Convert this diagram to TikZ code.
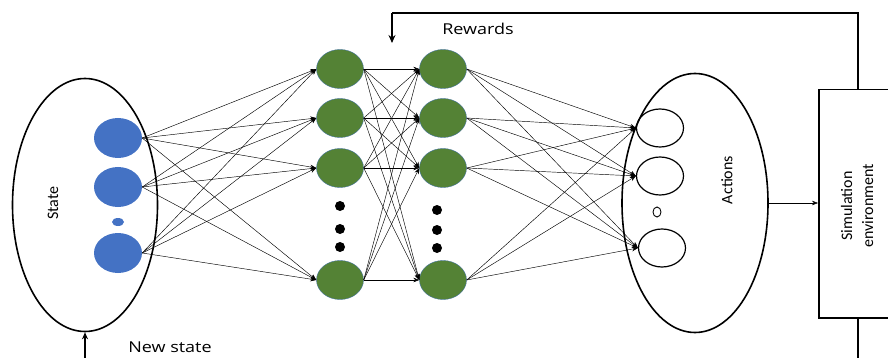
\documentclass[tikz,border=0pt]{standalone}
\usepackage{fontspec}
\setmainfont{Carlito}
\newfontfamily\lblfont{Open Sans}
\usetikzlibrary{arrows.meta,shapes.geometric}
\definecolor{inblue}{HTML}{4472C4}
\definecolor{hidgreen}{HTML}{548235}
\definecolor{hidedge}{HTML}{41719C}
\begin{document}
\begin{tikzpicture}[x=1pt,y=-1pt,
  big/.style={ellipse,draw,line width=1.6pt,inner sep=0pt},
  innode/.style={ellipse,fill=inblue,minimum width=48pt,minimum height=40pt,inner sep=0pt},
  hidnode/.style={ellipse,fill=hidgreen,draw=hidedge,line width=0.4pt,minimum width=47pt,minimum height=39pt,inner sep=0pt},
  outnode/.style={ellipse,draw,line width=1.2pt,minimum width=47pt,minimum height=38pt,inner sep=0pt},
  dotnode/.style={circle,fill=black,minimum size=10pt,inner sep=0pt},
  conn/.style={line width=0.45pt,-{Stealth[length=6pt,width=4.5pt]}},
  fb/.style={line width=1.5pt},
  lbl/.style={font=\lblfont\fontsize{15}{18}\selectfont,xscale=1.2},
  rlbl/.style={rotate=90,font=\fontsize{16}{21}\selectfont}]
\useasboundingbox (0,0) rectangle (888,358);
\clip (0,0) rectangle (888,358);
% state ellipse
\node[big,minimum width=145pt,minimum height=253pt] (state) at (85,205) {};
\node[rlbl] (statelbl) at (53,203) {State};
\node[innode] (i1) at (118,138) {};
\node[innode] (i2) at (118,187) {};
\node[innode] (i3) at (118,253) {};
\node[ellipse,fill=inblue,minimum width=12pt,minimum height=8pt,inner sep=0pt] (idot) at (118,222) {};
% hidden layers
\foreach \n/\y in {1/69,2/118,3/168,4/280}{
  \node[hidnode] (a\n) at (340,\y) {};
  \node[hidnode] (b\n) at (443,\y) {};
}
\node[dotnode] (ad1) at (340,206) {};
\node[dotnode] (ad2) at (340,229) {};
\node[dotnode] (ad3) at (340,247) {};
\node[dotnode] (bd1) at (437,210) {};
\node[dotnode] (bd2) at (437,230) {};
\node[dotnode] (bd3) at (437,248) {};
% actions
\node[big,minimum width=146pt,minimum height=259pt] (act) at (695,203) {};
\node[outnode] (o1) at (660,128) {};
\node[outnode] (o2) at (660,176) {};
\node[outnode] (o3) at (662,248) {};
\node[ellipse,draw,line width=0.9pt,minimum width=8pt,minimum height=10pt,inner sep=0pt] (odot) at (657,212) {};
\node[rlbl] (actlbl) at (727,180) {Actions};
% environment box
\node[draw,line width=1.5pt,minimum width=84pt,minimum height=228pt,inner sep=0pt,anchor=north west] (env) at (818,89) {};
\node[rlbl,align=center] (envlbl) at (857,206) {Simulation\\environment};
% connections
\foreach \i in {1,2,3}{\foreach \j in {1,2,3,4}{\draw[conn] (i\i.east) -- (a\j.west);}}
\foreach \i in {1,2,3,4}{\foreach \j in {1,2,3,4}{\draw[conn] (a\i.east) -- (b\j.west);}}
\foreach \i in {1,2,3,4}{\foreach \j in {1,2,3}{\draw[conn] (b\i.east) -- (o\j.west);}}
\draw[conn] (act.east) -- (env.west |- act.east);
% feedback
\coordinate (rtop) at (858,13);
\coordinate (rl) at (392,13);
\coordinate (rend) at (392,43);
\draw[fb] (env.north -| rtop) -- (rtop) -- (rl);
\draw[fb,-{Stealth[length=8pt,width=7pt]}] (rl) -- (rend);
\node[lbl] (rew) at (478,29) {Rewards};
\coordinate (nsb) at (858,358);
\draw[fb] (env.south -| nsb) -- (nsb);
\coordinate (nsin) at (85,358);
\draw[fb,-{Stealth[length=7pt,width=6pt]}] (nsin) -- (state.south);
\node[lbl] (ns) at (170,347) {New state};
\end{tikzpicture}
\end{document}
